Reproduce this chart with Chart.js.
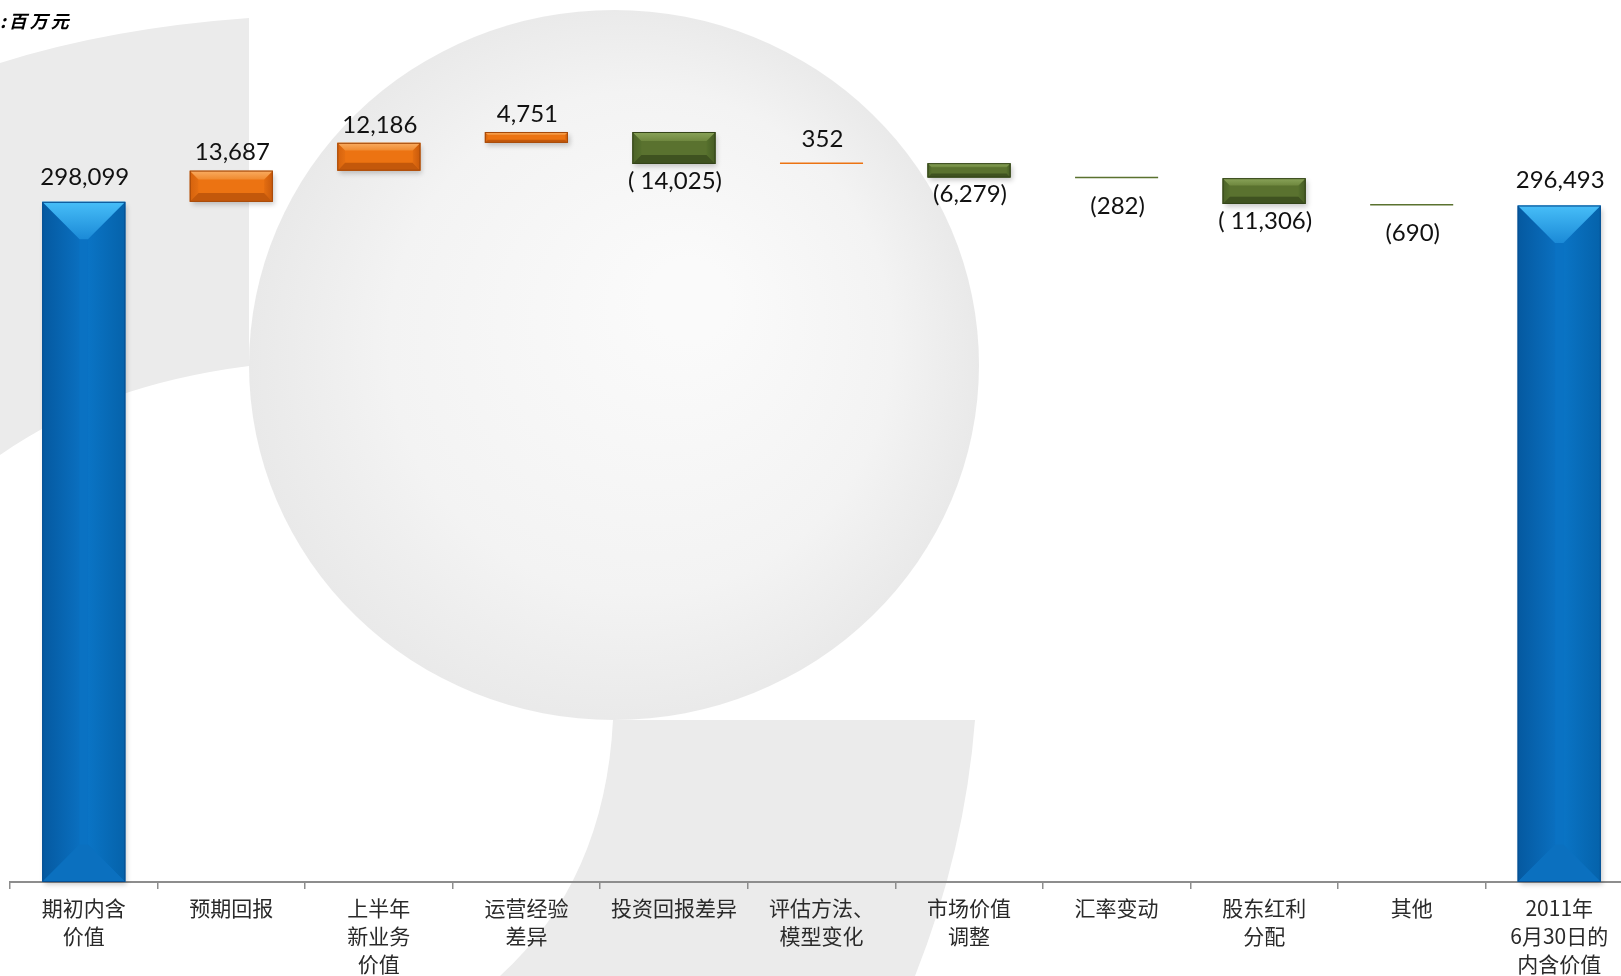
<!DOCTYPE html>
<html lang="zh-CN">
<head>
<meta charset="utf-8">
<title>内含价值变动</title>
<script src="https://cdn.jsdelivr.net/npm/chart.js@4.4.1/dist/chart.umd.min.js"></script>
<style>
  html, body { margin: 0; padding: 0; background: #fff; overflow: hidden; }
  .wrap { position: relative; width: 1640px; height: 976px; }
  .unit {
    position: absolute; left: 0; top: 7px; z-index: 2;
    font: italic bold 18px "Noto Sans CJK SC", sans-serif;
    letter-spacing: 3px; color: #000;
  }
</style>
</head>
<body>
<div class="wrap">
  <div class="unit">:百万元</div>
  <canvas id="evChart"></canvas>
</div>
<script>
// categories along the x axis (multi-line labels as arrays)
const categories = [
  ["期初内含", "价值"],
  "预期回报",
  ["上半年", "新业务", "价值"],
  ["运营经验", "差异"],
  "投资回报差异",
  ["评估方法、", "模型变化"],
  ["市场价值", "调整"],
  "汇率变动",
  ["股东红利", "分配"],
  "其他",
  ["2011年", "6月30日的", "内含价值"]
];

// opening value, the movements, closing value (RMB million)
const openingValue = 298099;
const changes = [13687, 12186, 4751, -14025, 352, -6279, -282, -11306, -690];
const closingValue = 296493;

const valueLabels = [
  "298,099", "13,687", "12,186", "4,751", "( 14,025)", "352",
  "(6,279)", "(282)", "( 11,306)", "(690)", "296,493"
];

// waterfall: each movement floats from the running total
const ranges = [[0, openingValue]];
const kinds = ["total"];
let running = openingValue;
changes.forEach(function (c) {
  ranges.push([running, running + c]);
  kinds.push(c >= 0 ? "up" : "down");
  running += c;
});
ranges.push([0, closingValue]);
kinds.push("total");

const palette = {
  total: { face: "#0a72c3", topA: "#47bef8", topB: "#1b8ad7", sideL: "#0559a0", sideLIn: "#0a6fbf",
           sideR: "#0562aa", sideRIn: "#0a74c5", bottom: "#0b70bf", edge: "#074f92" },
  up:    { face: "#ec7312", topA: "#f9ad63", topB: "#f08a2f", sideL: "#d5620d", sideLIn: "#e56f12",
           sideR: "#c8590b", sideRIn: "#e36d11", bottom: "#c3580b", edge: "#a5490a" },
  down:  { face: "#5a722f", topA: "#8aa45a", topB: "#6f883f", sideL: "#4c6328", sideLIn: "#56702d",
           sideR: "#465c24", sideRIn: "#56702d", bottom: "#3f5220", edge: "#34441a" }
};

function barRect(el) {
  const p = el.getProps(["x", "y", "base", "width"], true);
  return {
    l: p.x - p.width / 2, r: p.x + p.width / 2,
    t: Math.min(p.y, p.base), b: Math.max(p.y, p.base), cx: p.x, w: p.width
  };
}

function poly(ctx, pts, fill) {
  ctx.beginPath();
  ctx.moveTo(pts[0][0], pts[0][1]);
  for (let i = 1; i < pts.length; i++) ctx.lineTo(pts[i][0], pts[i][1]);
  ctx.closePath();
  ctx.fillStyle = fill;
  ctx.fill();
}

// grey watermark shapes behind the plot
const backdrop = {
  id: "backdrop",
  beforeDraw(chart) {
    const ctx = chart.ctx;
    ctx.save();
    ctx.fillStyle = "#ffffff";
    ctx.fillRect(0, 0, chart.width, chart.height);

    ctx.fillStyle = "#ebebeb";
    ctx.beginPath();
    ctx.moveTo(0, 63);
    ctx.quadraticCurveTo(110, 28, 249, 18);
    ctx.lineTo(249, 366);
    ctx.quadraticCurveTo(100, 385, 0, 455);
    ctx.closePath();
    ctx.fill();

    const g = ctx.createRadialGradient(690, 300, 40, 614, 365, 365);
    g.addColorStop(0, "#fafafa");
    g.addColorStop(0.65, "#f3f3f3");
    g.addColorStop(1, "#e9e9e9");
    ctx.fillStyle = g;
    ctx.beginPath();
    ctx.ellipse(614, 365, 365, 355, 0, 0, Math.PI * 2);
    ctx.fill();

    ctx.fillStyle = "#ebebeb";
    ctx.beginPath();
    ctx.moveTo(613, 720);
    ctx.lineTo(975, 720);
    ctx.quadraticCurveTo(965, 850, 915, 976);
    ctx.lineTo(500, 976);
    ctx.quadraticCurveTo(605, 880, 613, 720);
    ctx.closePath();
    ctx.fill();
    ctx.restore();
  }
};

// drop shadow under bars, bevelled faces on top, value labels
const bevelBars = {
  id: "bevelBars",
  beforeDatasetsDraw(chart) {
    const ctx = chart.ctx;
    const meta = chart.getDatasetMeta(0);
    ctx.save();
    ctx.shadowColor = "rgba(0,0,0,0.35)";
    ctx.shadowBlur = 5;
    ctx.shadowOffsetX = 2;
    ctx.shadowOffsetY = 3;
    meta.data.forEach(function (el) {
      const R = barRect(el);
      if (R.b - R.t < 4) return;
      ctx.fillStyle = "rgba(120,120,120,0.6)";
      ctx.fillRect(R.l, R.t, R.w, R.b - R.t);
    });
    ctx.restore();
  },
  afterDatasetsDraw(chart) {
    const ctx = chart.ctx;
    const meta = chart.getDatasetMeta(0);
    ctx.save();
    meta.data.forEach(function (el, i) {
      const R = barRect(el);
      const h = R.b - R.t;
      const c = palette[kinds[i]];
      if (h >= 4) {
        const d = Math.min(R.w * 0.45, h * 0.28, 38);
        const { l, r, t, b } = R;

        let gl = ctx.createLinearGradient(l, 0, l + d, 0);
        gl.addColorStop(0, c.sideL);
        gl.addColorStop(1, c.sideLIn);
        poly(ctx, [[l, t], [l + d, t + d], [l + d, b - d], [l, b]], gl);

        let gr = ctx.createLinearGradient(r - d, 0, r, 0);
        gr.addColorStop(0, c.sideRIn);
        gr.addColorStop(1, c.sideR);
        poly(ctx, [[r, t], [r - d, t + d], [r - d, b - d], [r, b]], gr);

        poly(ctx, [[l + d, t + d], [r - d, t + d], [r - d, b - d], [l + d, b - d]], c.face);

        let gt = ctx.createLinearGradient(0, t, 0, t + d);
        gt.addColorStop(0, c.topA);
        gt.addColorStop(1, c.topB);
        poly(ctx, [[l, t], [r, t], [r - d, t + d], [l + d, t + d]], gt);

        poly(ctx, [[l, b], [r, b], [r - d, b - d], [l + d, b - d]], c.bottom);

        ctx.strokeStyle = c.edge;
        ctx.lineWidth = 1;
        ctx.strokeRect(l + 0.5, t + 0.5, R.w - 1, h - 1);
      }

      // value label
      let ty;
      if (kinds[i] === "total") ty = R.t - 25;
      else if (kinds[i] === "up") ty = R.t - (h < 4 ? 23 : 18);
      else ty = R.b + (h < 4 ? 28 : 17);
      ctx.font = "24px Lato, 'Noto Sans', sans-serif";
      ctx.fillStyle = "#111111";
      ctx.textAlign = "center";
      ctx.textBaseline = "middle";
      ctx.fillText(valueLabels[i], R.cx + 1, ty);
    });
    ctx.restore();
  }
};

new Chart(document.getElementById("evChart"), {
  type: "bar",
  data: {
    labels: categories,
    datasets: [
      {
        data: ranges,
        backgroundColor: kinds.map((k) => palette[k].face),
        borderWidth: 0,
        borderSkipped: false,
        barPercentage: 0.563,
        categoryPercentage: 1,
        minBarLength: 1.5,
      },
    ],
  },
  options: {
    responsive: true,
    maintainAspectRatio: false,
    animation: false,
    layout: { padding: { top: 15, left: 10, right: 7, bottom: 0 } },
    plugins: {
      legend: { display: false },
      tooltip: { enabled: false },
    },
    scales: {
      x: {
        grid: {
          offset: true,
          drawOnChartArea: false,
          drawTicks: true,
          tickLength: 7,
          color: "#8d8d8d",
          lineWidth: 1.5,
        },
        border: { display: true, color: "#8d8d8d", width: 2 },
        ticks: {
          color: "#2a2a2a",
          font: { family: "'Noto Sans CJK SC', sans-serif", size: 21, lineHeight: 1.34 },
          padding: 5,
          maxRotation: 0,
          autoSkip: false,
        },
        afterFit: function (scale) {
          scale.height = 94;
        },
      },
      y: {
        display: false,
        min: 0,
        max: 380000,
      },
    },
  },
  plugins: [backdrop, bevelBars],
});
</script>
</body>
</html>
